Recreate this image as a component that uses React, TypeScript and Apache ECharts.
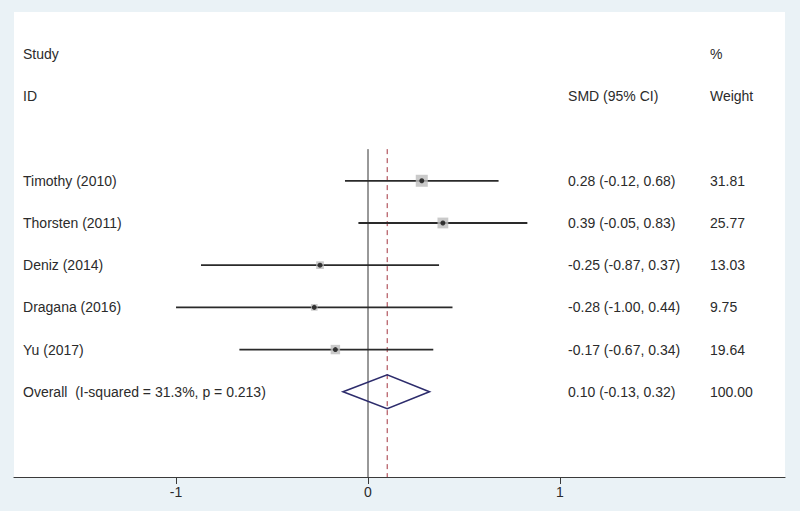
import React, { useEffect, useRef } from "react";
import * as echarts from "echarts";

// ---- data ----
const studies = ["Timothy (2010)", "Thorsten (2011)", "Deniz (2014)", "Dragana (2016)", "Yu (2017)"];
const smd = [0.28, 0.39, -0.25, -0.28, -0.17];
const ciLow = [-0.12, -0.05, -0.87, -1.0, -0.67];
const ciHigh = [0.68, 0.83, 0.37, 0.44, 0.34];
const weights = [31.81, 25.77, 13.03, 9.75, 19.64];

const overallLabel = "Overall  (I-squared = 31.3%, p = 0.213)";
const overallSmd = 0.1;
const overallLow = -0.13;
const overallHigh = 0.32;
const overallWeight = 100.0;

const xTicks = [-1, 0, 1];
const headerTop = ["Study", "", "%"];
const headerBottom = ["ID", "SMD (95% CI)", "Weight"];

// ---- layout (data-space column positions / rows) ----
const X_MIN = -1.844;
const X_MAX = 2.172;
const Y_MIN = -4;
const Y_MAX = 7.02;
const COL_STUDY = -1.797;
const COL_SMD = 1.042;
const COL_WEIGHT = 1.781;
const LINE_TOP = -0.75;

const FONT = '"Liberation Sans", Arial, Helvetica, sans-serif';
const TEXT_COLOR = "#2b2b2b";

const fmt = (v: number) => v.toFixed(2);
const ciText = (m: number, lo: number, hi: number) => `${fmt(m)} (${fmt(lo)}, ${fmt(hi)})`;

export default function App() {
  const ref = useRef<HTMLDivElement>(null);

  useEffect(() => {
    if (!ref.current) return;
    const chart = echarts.init(ref.current, undefined, { renderer: "svg" });

    const overallRow = studies.length;

    // text items
    const texts: { x: number; r: number; t: string }[] = [];
    const cols = [COL_STUDY, COL_SMD, COL_WEIGHT];
    headerTop.forEach((t, i) => t && texts.push({ x: cols[i], r: -3, t }));
    headerBottom.forEach((t, i) => t && texts.push({ x: cols[i], r: -2, t }));
    studies.forEach((s, i) => {
      texts.push({ x: COL_STUDY, r: i, t: s });
      texts.push({ x: COL_SMD, r: i, t: ciText(smd[i], ciLow[i], ciHigh[i]) });
      texts.push({ x: COL_WEIGHT, r: i, t: fmt(weights[i]) });
    });
    texts.push({ x: COL_STUDY, r: overallRow, t: overallLabel });
    texts.push({ x: COL_SMD, r: overallRow, t: ciText(overallSmd, overallLow, overallHigh) });
    texts.push({ x: COL_WEIGHT, r: overallRow, t: fmt(overallWeight) });

    const option: any = {
      animation: false,
      backgroundColor: "#eaf2f6",
      grid: {
        left: 14,
        right: 15,
        top: 12,
        bottom: 34,
        show: true,
        backgroundColor: "#ffffff",
        borderWidth: 0,
      },
      xAxis: {
        type: "value",
        min: X_MIN,
        max: X_MAX,
        position: "bottom",
        axisLine: { show: true, onZero: false, lineStyle: { color: "#3a3a3a", width: 1.2 } },
        axisTick: { show: true, customValues: xTicks, length: 7, lineStyle: { color: "#3a3a3a", width: 1 } },
        axisLabel: {
          show: true,
          customValues: xTicks,
          fontSize: 14,
          fontFamily: FONT,
          color: TEXT_COLOR,
          margin: 8,
          formatter: (v: number) => String(v),
        },
        splitLine: { show: false },
      },
      yAxis: {
        type: "value",
        inverse: true,
        min: Y_MIN,
        max: Y_MAX,
        show: false,
        splitLine: { show: false },
      },
      series: [
        {
          type: "line",
          data: [
            [0, LINE_TOP],
            [0, Y_MAX],
          ],
          symbol: "none",
          lineStyle: { color: "#333333", width: 1 },
          silent: true,
          z: 1,
        },
        {
          type: "line",
          data: [
            [overallSmd, LINE_TOP],
            [overallSmd, Y_MAX],
          ],
          symbol: "none",
          lineStyle: { color: "#a3343f", width: 1, type: [5, 4] },
          silent: true,
          z: 1,
        },
        {
          type: "custom",
          data: studies.map((_, i) => [ciLow[i], ciHigh[i], i]),
          renderItem: (params: any, api: any) => {
            const a = api.coord([api.value(0), api.value(2)]);
            const b = api.coord([api.value(1), api.value(2)]);
            return {
              type: "line",
              shape: { x1: a[0], y1: a[1], x2: b[0], y2: b[1] },
              style: { stroke: "#2a2a2a", lineWidth: 1.8 },
            };
          },
          z: 2,
        },
        {
          type: "scatter",
          data: studies.map((_, i) => [smd[i], i]),
          symbol: "rect",
          symbolSize: (_v: any, p: any) => 2.13 * Math.sqrt(weights[p.dataIndex]),
          itemStyle: { color: "#bdbdbd" },
          z: 3,
        },
        {
          type: "scatter",
          data: studies.map((_, i) => [smd[i], i]),
          symbol: "circle",
          symbolSize: 5,
          itemStyle: { color: "#111111" },
          z: 4,
        },
        {
          type: "custom",
          data: [[overallLow, overallSmd, overallHigh, overallRow]],
          renderItem: (params: any, api: any) => {
            const r = api.value(3);
            const l = api.coord([api.value(0), r]);
            const m = api.coord([api.value(1), r]);
            const h = api.coord([api.value(2), r]);
            const hh = 17;
            return {
              type: "polygon",
              shape: {
                points: [
                  [l[0], l[1]],
                  [m[0], m[1] - hh],
                  [h[0], h[1]],
                  [m[0], m[1] + hh],
                ],
              },
              style: { stroke: "#2d2c6c", fill: "none", lineWidth: 1.6 },
            };
          },
          z: 5,
        },
        {
          type: "custom",
          data: texts.map((t) => [t.x, t.r]),
          clip: false,
          renderItem: (params: any, api: any) => {
            const p = api.coord([api.value(0), api.value(1)]);
            return {
              type: "text",
              x: p[0],
              y: p[1],
              style: {
                text: texts[params.dataIndex].t,
                fill: TEXT_COLOR,
                fontSize: 14,
                fontFamily: FONT,
                align: "left",
                verticalAlign: "middle",
              },
            };
          },
          z: 6,
        },
      ],
    };

    chart.setOption(option);
    return () => chart.dispose();
  }, []);

  return (
    <div
      ref={ref}
      style={{ position: "absolute", left: 0, top: 0, width: 800, height: 511 }}
    />
  );
}
